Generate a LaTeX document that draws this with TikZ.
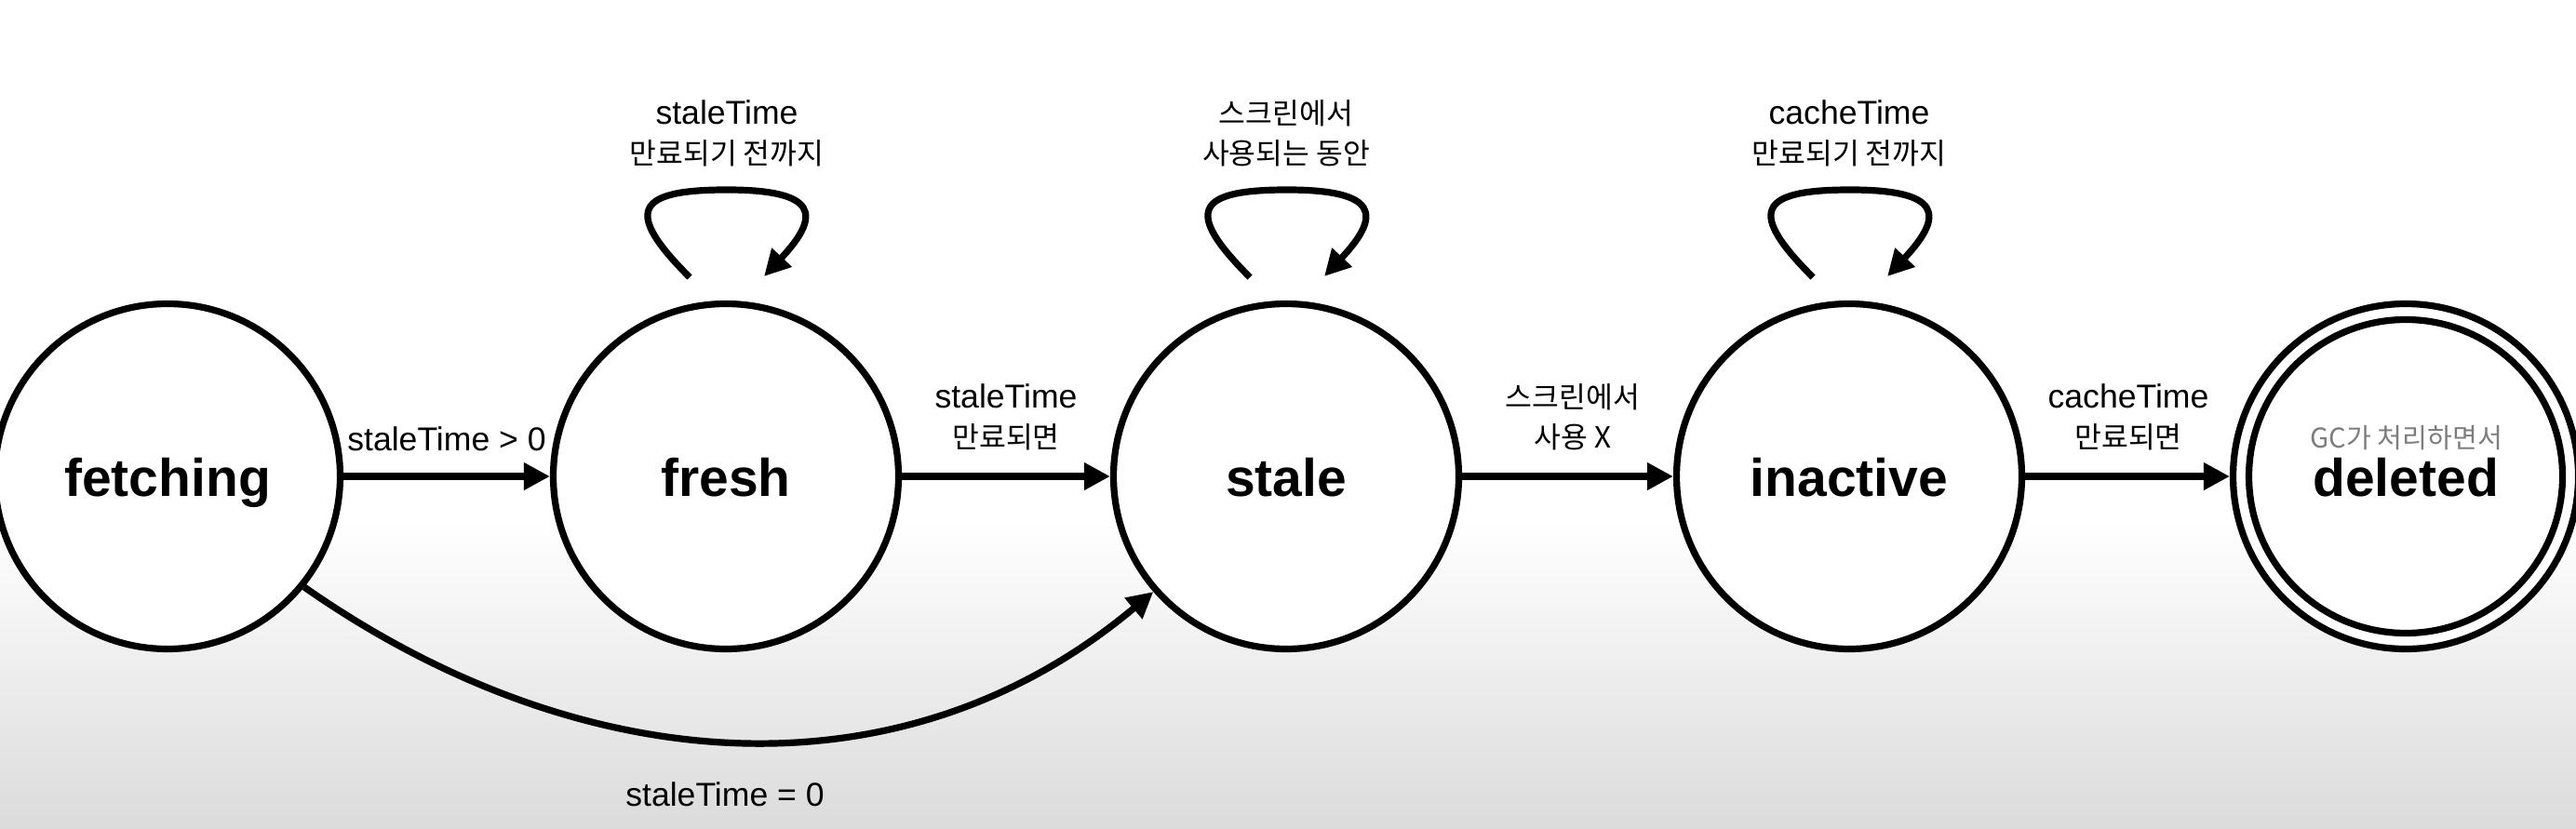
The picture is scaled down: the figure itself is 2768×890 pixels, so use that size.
\documentclass[tikz,border=0pt]{standalone}
\usepackage{fontspec}
\setmainfont{Liberation Sans}
\newfontfamily\kr{Noto Sans CJK KR}[Scale=0.88]
\usetikzlibrary{arrows.meta,calc}
\definecolor{bggray}{RGB}{219,219,219}
\definecolor{gctext}{RGB}{125,125,125}
\begin{document}
\begin{tikzpicture}[x=0.25pt,y=0.25pt,
  state/.style={circle,draw=black,fill=white,line width=1.8pt,minimum size=92.75pt,inner sep=0pt,
    font=\fontsize{14.25pt}{17pt}\selectfont\bfseries,text height=10.5pt,text depth=0pt},
  lbl/.style={inner sep=0pt,align=center,font=\fontsize{8.9pt}{10.75pt}\selectfont},
  arr/.style={line width=1.8pt,-{Triangle[length=7pt,width=7pt]}}]
\useasboundingbox (0,0) rectangle (2768,890);
\fill[white] (0,0) rectangle (2768,890);
\shade[top color=white,bottom color=bggray] (0,0) rectangle (2768,330);
% states
\node[state] (fetching) at (180,378) {fetching};
\node[state] (fresh) at (780,378) {fresh};
\node[state] (stale) at (1382,378) {stale};
\node[state] (inactive) at (1987,378) {inactive};
\node[state] (deleted) at (2585,378) {deleted};
\draw[line width=1.8pt] (deleted.center) circle[radius=168.5];
\node[anchor=base,inner sep=0pt,text=gctext,font=\fontsize{8.3pt}{9pt}\selectfont\kr] (gc) at (2586,409) {GC가 처리하면서};
% transitions
\draw[arr] (fetching) -- (fresh);
\draw[arr] (fresh) -- (stale);
\draw[arr] (stale) -- (inactive);
\draw[arr] (inactive) -- (deleted);
\draw[arr] (fetching.-39) to[out=-35,in=-140] (stale.-139);
% self loops
\foreach \s in {fresh,stale,inactive}{
  \coordinate (\s L) at ($(\s.center)+(-39,214)$);
  \coordinate (\s T) at ($(\s.center)+(1,308)$);
  \coordinate (\s R) at ($(\s.center)+(41,215)$);
  \draw[arr] (\s L) .. controls +(-70,70) and +(-100,0) .. (\s T) .. controls +(98,0) and +(62,66) .. (\s R);
}
% labels
\node[lbl,anchor=south] (l1) at (480,404) {staleTime > 0};
\node[lbl,anchor=south] (l2) at (1081,405) {staleTime\\{\kr 만료되면}};
\node[lbl,anchor=south] (l3) at (1690,405) {{\kr 스크린에서}\\{\kr 사용 X}};
\node[lbl,anchor=south] (l4) at (2287,405) {cacheTime\\{\kr 만료되면}};
\node[lbl,anchor=south] (l5) at (781,710) {staleTime\\{\kr 만료되기 전까지}};
\node[lbl,anchor=south] (l6) at (1382,710) {{\kr 스크린에서}\\{\kr 사용되는 동안}};
\node[lbl,anchor=south] (l7) at (1987,710) {cacheTime\\{\kr 만료되기 전까지}};
\node[lbl,anchor=base] (l8) at (779,24) {staleTime = 0};
\end{tikzpicture}
\end{document}
